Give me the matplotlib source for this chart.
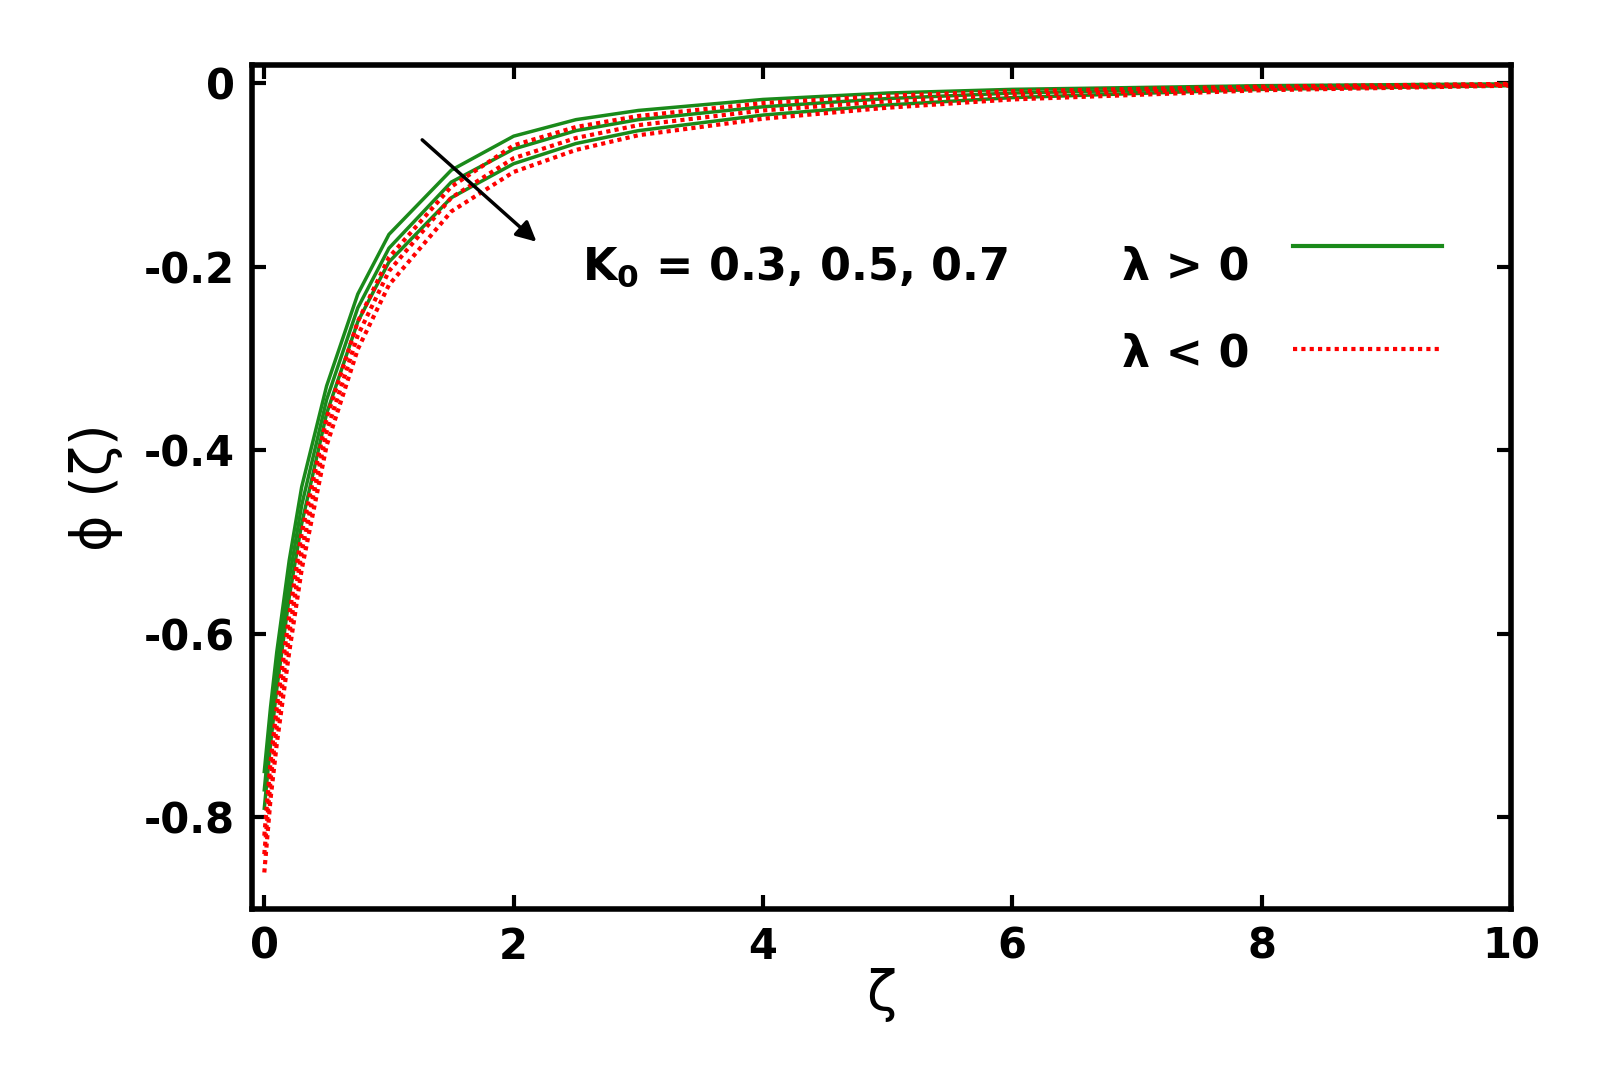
import matplotlib
matplotlib.use("Agg")
import matplotlib.pyplot as plt

x = [0, 0.05, 0.1, 0.2, 0.3, 0.5, 0.75, 1.0, 1.5, 2.0, 2.5, 3.0, 4.0, 5.0, 6.0, 8.0, 10.0]
green = [
    [-0.75, -0.68, -0.62, -0.52, -0.44, -0.33, -0.23, -0.165, -0.095, -0.058, -0.040, -0.030, -0.018, -0.011, -0.007, -0.003, -0.001],
    [-0.77, -0.70, -0.64, -0.54, -0.46, -0.345, -0.245, -0.18, -0.108, -0.072, -0.052, -0.040, -0.026, -0.017, -0.011, -0.005, -0.002],
    [-0.79, -0.72, -0.66, -0.56, -0.48, -0.36, -0.26, -0.195, -0.125, -0.088, -0.066, -0.052, -0.035, -0.024, -0.016, -0.007, -0.003],
]
red = [
    [-0.82, -0.74, -0.68, -0.58, -0.49, -0.365, -0.26, -0.19, -0.113, -0.068, -0.048, -0.036, -0.022, -0.014, -0.009, -0.004, -0.001],
    [-0.84, -0.76, -0.70, -0.60, -0.51, -0.38, -0.275, -0.205, -0.125, -0.082, -0.060, -0.046, -0.030, -0.020, -0.013, -0.006, -0.002],
    [-0.86, -0.78, -0.72, -0.62, -0.53, -0.395, -0.29, -0.22, -0.14, -0.097, -0.073, -0.057, -0.039, -0.027, -0.018, -0.008, -0.003],
]

plt.rcParams['font.family'] = ['DejaVu Sans']
plt.rcParams['font.weight'] = 'bold'
fig = plt.figure(figsize=(16.04, 10.76), dpi=100)
ax = fig.add_axes([0.157, 0.155, 0.785, 0.785])
for g in green:
    ax.plot(x, g, color='#1a8a1a', lw=2.5)
for r in red:
    ax.plot(x, r, color='red', lw=3, ls=(0, (1, 1)))
ax.set_xlim(-0.1, 10)
ax.set_ylim(-0.9, 0.02)
ax.set_xticks([0, 2, 4, 6, 8, 10])
ax.set_yticks([0, -0.2, -0.4, -0.6, -0.8])
ax.set_yticklabels(['0', '-0.2', '-0.4', '-0.6', '-0.8'])
ax.tick_params(labelsize=30, width=3, length=10, direction='in', top=True, right=True, pad=12)
for s in ax.spines.values():
    s.set_linewidth(4)
ax.set_xlabel('ζ', fontsize=40, labelpad=0)
ax.set_ylabel('ϕ (ζ)', fontsize=40, labelpad=15)
ax.annotate('', xy=(2.2, -0.175), xytext=(1.25, -0.06),
            arrowprops=dict(arrowstyle='-|>,head_width=0.6,head_length=1.2', color='black', lw=2.5))
ax.text(2.55, -0.2, 'K$_\\mathbf{0}$ = 0.3, 0.5, 0.7', fontsize=32, fontweight='bold', va='center')
ax.text(7.9, -0.2, 'λ > 0', fontsize=32, fontweight='bold', va='center', ha='right')
ax.text(7.9, -0.295, 'λ < 0', fontsize=32, fontweight='bold', va='center', ha='right')
ax.plot([8.25, 9.45], [-0.178, -0.178], color='#1a8a1a', lw=3)
ax.plot([8.25, 9.45], [-0.29, -0.29], color='red', lw=3, ls=(0, (1, 1)))
fig.savefig('out.png', dpi=100)
